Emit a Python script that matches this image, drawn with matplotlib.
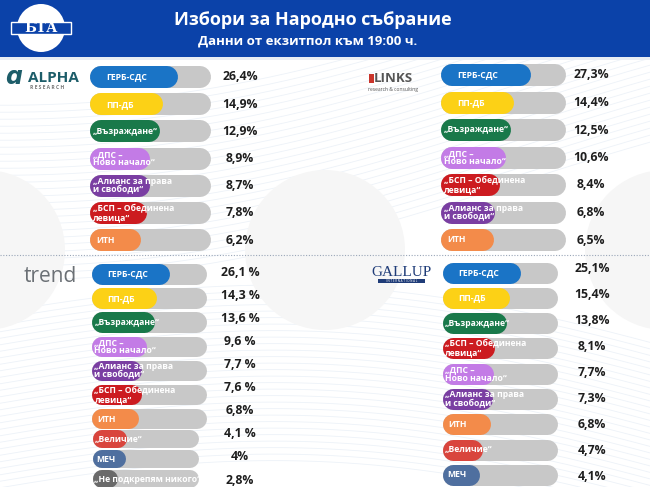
import numpy as np
import matplotlib
matplotlib.use("Agg")
import matplotlib.pyplot as plt
from matplotlib.patches import Rectangle, Circle, Arc

plt.rcParams['font.family'] = ['Open Sans', 'DejaVu Sans']

# ---------------- data ----------------
alpha_parties = ["ГЕРБ-СДС", "ПП-ДБ", "„Възраждане“", "„ДПС –\nНово начало“",
                 "„Алианс за права\nи свободи“", "„БСП – Обединена\nлевица“", "ИТН"]
alpha_values = [26.4, 14.9, 12.9, 8.9, 8.7, 7.8, 6.2]
alpha_labels = ["26,4%", "14,9%", "12,9%", "8,9%", "8,7%", "7,8%", "6,2%"]

links_parties = ["ГЕРБ-СДС", "ПП-ДБ", "„Възраждане“", "„ДПС –\nНово начало“",
                 "„БСП – Обединена\nлевица“", "„Алианс за права\nи свободи“", "ИТН"]
links_values = [27.3, 14.4, 12.5, 10.6, 8.4, 6.8, 6.5]
links_labels = ["27,3%", "14,4%", "12,5%", "10,6%", "8,4%", "6,8%", "6,5%"]

trend_parties = ["ГЕРБ-СДС", "ПП-ДБ", "„Възраждане“", "„ДПС –\nНово начало“",
                 "„Алианс за права\nи свободи“", "„БСП – Обединена\nлевица“", "ИТН",
                 "„Величие“", "МЕЧ", "„Не подкрепям никого“"]
trend_values = [26.1, 14.3, 13.6, 9.6, 7.7, 7.6, 6.8, 4.1, 4.0, 2.8]
trend_labels = ["26,1 %", "14,3 %", "13,6 %", "9,6 %", "7,7 %", "7,6 %", "6,8%",
                "4,1 %", "4%", "2,8%"]

gallup_parties = ["ГЕРБ-СДС", "ПП-ДБ", "„Възраждане“", "„БСП – Обединена\nлевица“",
                  "„ДПС –\nНово начало“", "„Алианс за права\nи свободи“", "ИТН",
                  "„Величие“", "МЕЧ"]
gallup_values = [25.1, 15.4, 13.8, 8.1, 7.7, 7.3, 6.8, 4.7, 4.1]
gallup_labels = ["25,1%", "15,4%", "13,8%", "8,1%", "7,7%", "7,3%", "6,8%", "4,7%", "4,1%"]

title = "Избори за Народно събрание"
subtitle = "Данни от екзитпол към 19:00 ч."

# ---------------- styles ----------------
party_colors = {
    "ГЕРБ": "#1a74c6", "ПП": "#fcd116", "Възр": "#19794a", "ДПС": "#c37be6",
    "Алианс": "#7a3ea2", "БСП": "#cc1b20", "ИТН": "#f38b4a", "Величие": "#d9453d",
    "МЕЧ": "#4f6f9f", "Не подкрепям": "#6a6a6a",
}
label_offsets = {"ГЕРБ": 16, "ПП": 16, "ИТН": 6, "МЕЧ": 5}


def color_of(name):
    for k, c in party_colors.items():
        if k in name:
            return c
    return "#888888"


def offset_of(name):
    for k, o in label_offsets.items():
        if name.startswith(k):
            return o
    return 3


TRACK = "#c8c8c8"
BASE = 2.0  # log-scale origin of every bar (percent)
W, H = 650, 487

fig = plt.figure(figsize=(6.5, 4.87), dpi=100)
ax = fig.add_axes([0, 0, 1, 1])
ax.set_xlim(0, W)
ax.set_ylim(H, 0)
ax.axis("off")
fig.patch.set_facecolor("white")

# ---------------- decorative background ----------------
xs = np.linspace(0, W, 300)
for i in range(26):
    ys = 70 + i * 7 + 45 * np.sin(xs / 230 + 0.9) - 0.12 * xs
    ax.plot(xs, ys, color="#edf2f8", lw=0.6, zorder=0)
for i in range(28):
    ys = 330 + i * 6.5 - 60 * np.sin(xs / 260 + 0.3) + 0.05 * xs
    ax.plot(xs, ys, color="#edf2f8", lw=0.6, zorder=0)

for cx in (325, -15, 665):
    ax.add_patch(Circle((cx, 250), 80, facecolor="#f6f6f6", edgecolor="none", zorder=0.5))

# dotted divider
ax.plot([0, W], [254.5, 254.5], color="#9aa6b8", lw=0.8, ls=(0, (1, 1.5)), zorder=1)

# ---------------- header ----------------
ax.add_patch(Rectangle((0, 0), W, 57, facecolor="#0b42a9", edgecolor="none", zorder=2))
ax.add_patch(Rectangle((0, 57), W, 3, facecolor="#e8edf4", edgecolor="none", zorder=2))
ax.text(313, 20, title, color="white", fontsize=13, fontweight="bold",
        ha="center", va="center", zorder=3)
ax.text(308, 41, subtitle, color="white", fontsize=9.5, fontweight="bold",
        ha="center", va="center", zorder=3)

# BTA logo
globe = Circle((41, 28), 24, facecolor="white", edgecolor="none", zorder=3)
ax.add_patch(globe)
for k in range(4):
    for cy, t1, t2 in ((28 - 34 - 4 * k, 200, 340), (28 + 34 + 4 * k, 20, 160)):
        a = Arc((41, cy), 80, 2 * (26 + 5 * k), theta1=t1, theta2=t2,
                color="#0b42a9", lw=0.9, zorder=3.2)
        ax.add_patch(a)
        a.set_clip_path(globe)
ax.add_patch(Rectangle((11, 22), 60, 12, facecolor="#0b42a9", edgecolor="white", lw=1,
                       zorder=3.5))
ax.text(41, 28.5, "БТА", color="white", fontsize=10, fontweight="bold", family="DejaVu Serif",
        ha="center", va="center", zorder=4)

# ---------------- logos ----------------
ax.text(14, 78, "ɑ", color="#1d5d69", fontsize=17, fontweight="bold", style="italic",
        ha="center", va="center", zorder=3)
ax.text(28, 78, "ALPHA", color="#1d5d69", fontsize=11, fontweight="bold",
        ha="left", va="center", zorder=3)
ax.text(30, 87.5, "R E S E A R C H", color="#777777", fontsize=3.6, fontweight="bold",
        ha="left", va="center", zorder=3)

ax.add_patch(Rectangle((369, 74), 5, 9, facecolor="#c9342b", edgecolor="none", zorder=3))
ax.text(374, 78, "LINKS", color="#555555", fontsize=9.5, fontweight="bold",
        ha="left", va="center", zorder=3)
ax.text(393, 89, "research & consulting", color="#555555", fontsize=3.6,
        ha="center", va="center", zorder=3)

ax.text(24, 276, "trend", color="#6b7075", fontsize=15, ha="left", va="center", zorder=3)

ax.text(401, 272, "GALLUP", color="#1f3c78", fontsize=11, family="Liberation Serif",
        ha="center", va="center", zorder=3)
ax.add_patch(Rectangle((378, 279), 47, 4, facecolor="#1f3c78", edgecolor="none", zorder=3))
ax.text(401.5, 281, "I N T E R N A T I O N A L", color="white", fontsize=2.2,
        ha="center", va="center", zorder=3.5)


# ---------------- bars ----------------
def draw_panel(parties, values, labels, x0, track_w, centers, heights, pct_x, pct_y, xmax):
    hmax = max(heights)
    left = x0 + hmax / 2
    right = x0 + track_w[0] - hmax / 2
    pax = fig.add_axes([left / W, 0, (right - left) / W, 1])
    pax.set_xscale("log")
    pax.set_xlim(BASE, xmax)
    pax.set_ylim(H, 0)
    pax.axis("off")
    pax.patch.set_alpha(0)
    inv = pax.transData.inverted()
    for i, (p, v, lab) in enumerate(zip(parties, values, labels)):
        yc, h = centers[i], heights[i]
        lw = h * 72 / 100
        end_px = x0 + track_w[i] - h / 2
        track_end = inv.transform((end_px, 0))[0]
        pax.plot([BASE, track_end], [yc, yc], color=TRACK, lw=lw,
                 solid_capstyle="round", clip_on=False, zorder=4)
        pax.plot([BASE, v], [yc, yc], color=color_of(p), lw=lw,
                 solid_capstyle="round", clip_on=False, zorder=5)
        pax.text(x0 + offset_of(p.strip("„")), yc, p, transform=ax.transData,
                 color="white", fontsize=6.2, fontweight="bold", ha="left", va="center",
                 linespacing=0.95, zorder=6, clip_on=False)
        ax.text(pct_x, pct_y[i], lab, color="#1e1e1e", fontsize=8.8, fontweight="bold",
                ha="center", va="center", zorder=6)


n = len(alpha_values)
c = [77 + 27.2 * i for i in range(n)]
draw_panel(alpha_parties, alpha_values, alpha_labels, 90, [121] * n, c, [22] * n, 240, c, 96)

n = len(links_values)
c = [75 + 27.5 * i for i in range(n)]
draw_panel(links_parties, links_values, links_labels, 441, [125] * n, c, [22] * n, 591, c, 105)

n = len(trend_values)
c = [274 + 24.2 * i if i <= 6 else 419.2 + 20 * (i - 6) for i in range(n)]
hts = [21 if i < 3 else (20 if i < 7 else 18) for i in range(n)]
tws = [115 if i < 7 else 107 for i in range(n)]
draw_panel(trend_parties, trend_values, trend_labels, 91.5, tws, c, hts, 240,
           list(np.linspace(272, 480, n)), 139)

n = len(gallup_values)
c = [272.5 + 25.3 * i for i in range(n)]
draw_panel(gallup_parties, gallup_values, gallup_labels, 442, [115] * n, c, [21] * n, 592,
           list(np.linspace(269, 476, n)), 129)

fig.savefig("out.png", dpi=100, facecolor="white")
